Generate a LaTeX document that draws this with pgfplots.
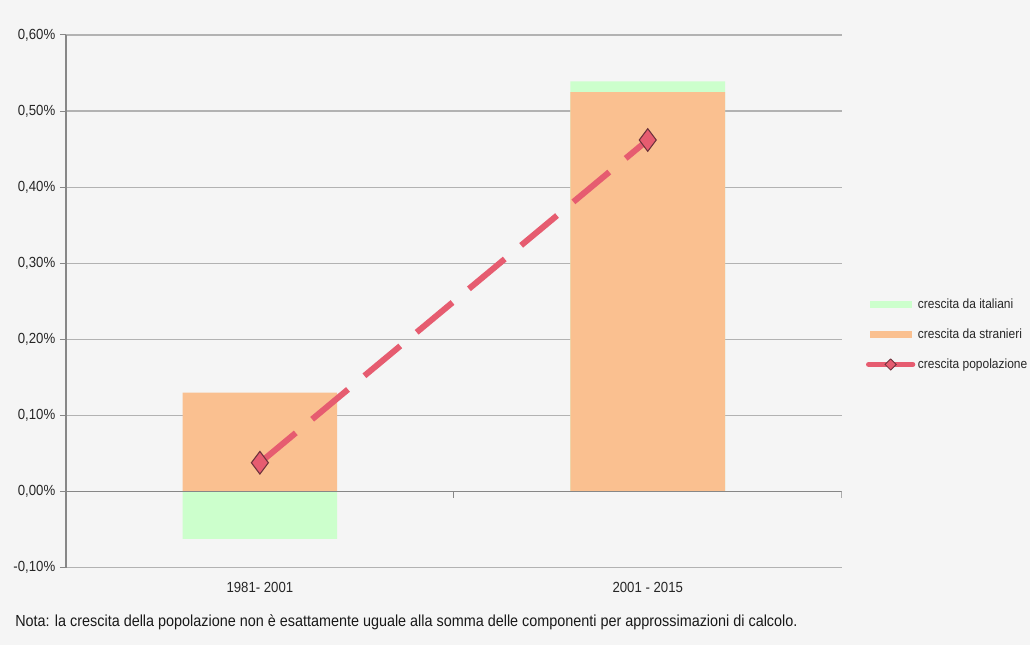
\documentclass[border=0pt]{standalone}
\usepackage{fontspec}
\setmainfont{Liberation Sans}[FakeStretch=0.9]
\usepackage{pgfplots}
\pgfplotsset{compat=1.18}
\definecolor{bg}{RGB}{245,245,245}
\definecolor{ital}{RGB}{204,255,204}
\definecolor{stran}{RGB}{250,192,144}
\definecolor{pop}{RGB}{230,92,112}
\definecolor{popedge}{RGB}{110,50,60}
\definecolor{gridc}{RGB}{178,178,178}
\definecolor{axc}{RGB}{135,135,135}

\begin{document}
\begin{tikzpicture}
% page background, 1px = 0.75pt
\fill[bg] (0pt,0pt) rectangle (772.5pt,483.75pt);

\begin{axis}[
    at={(49.5pt,57.75pt)}, anchor=south west,
    scale only axis, width=582pt, height=399.75pt,
    xmin=-0.5, xmax=1.5, ymin=-0.1, ymax=0.6,
    axis lines*=left,
    axis line style={-},
    x axis line style={draw=none},
    y axis line style={axc, line width=0.9pt},
    xtick={0,1},
    xticklabels={1981- 2001, 2001 - 2015},
    major x tick style={draw=none},
    ytick={-0.1,0,0.1,0.2,0.3,0.4,0.5,0.6},
    yticklabel={\pgfmathprintnumber[fixed,fixed zerofill,precision=2,use comma]{\tick}\%},
    /pgf/number format/assume math mode=true,
    tick align=outside,
    major tick length=4.5pt,
    y tick style={axc, line width=0.75pt},
    ymajorgrids,
    grid style={gridc, line width=0.9pt},
    ticklabel style={font=\fontsize{11}{13}\selectfont, text=black!85},
    xticklabel style={yshift=-3pt},
    legend style={at={(1.031,0.438)}, anchor=west, draw=none, fill=none,
        font=\fontsize{10}{12}\selectfont, row sep=9.8pt, inner sep=0pt,
        text=black!85},
    legend cell align=left,
]

\addplot[ybar, bar width=116pt, bar shift=0pt, fill=ital, draw=none,
    legend image code/.code={\fill[ital] (0pt,-2.8pt) rectangle (31.5pt,2.8pt);}]
    coordinates {(0,-0.062) (1,0.539)};
\addlegendentry{crescita da italiani}

\addplot[ybar, bar width=116pt, bar shift=0pt, fill=stran, draw=none,
    legend image code/.code={\fill[stran] (0pt,-2.8pt) rectangle (31.5pt,2.8pt);}]
    coordinates {(0,0.13) (1,0.525)};
\addlegendentry{crescita da stranieri}

% zero line with category separators
\draw[axc, line width=1pt] (axis cs:-0.5,0) -- (axis cs:1.5,0);
\draw[axc, line width=0.75pt] (axis cs:0.5,0) -- ++(0pt,-4.5pt);
\draw[axc, line width=0.75pt] (axis cs:1.5,0) -- ++(0pt,-4.5pt);

\addplot[pop, line width=4.5pt, dash pattern=on 35pt off 16pt,
    mark=diamond*, mark size=8.5pt,
    mark options={solid, fill=pop, draw=popedge, line width=0.8pt},
    legend image code/.code={
        \draw[pop, line width=4pt, line cap=round] (-1pt,0pt) -- (32pt,0pt);
        \filldraw[fill=pop, draw=popedge, line width=0.6pt]
            (15.5pt,4.2pt) -- (19.7pt,0pt) -- (15.5pt,-4.2pt) -- (11.3pt,0pt) -- cycle;}]
    coordinates {(0,0.038) (1,0.462)};
\addlegendentry{crescita popolazione}

\end{axis}

\node[anchor=west, font=\fontsize{12}{14}\selectfont, text=black!90, inner sep=0pt]
    at (11.25pt,16.5pt) {Nota: la crescita della popolazione non è esattamente uguale alla somma delle componenti per approssimazioni di calcolo.};
\end{tikzpicture}
\end{document}
